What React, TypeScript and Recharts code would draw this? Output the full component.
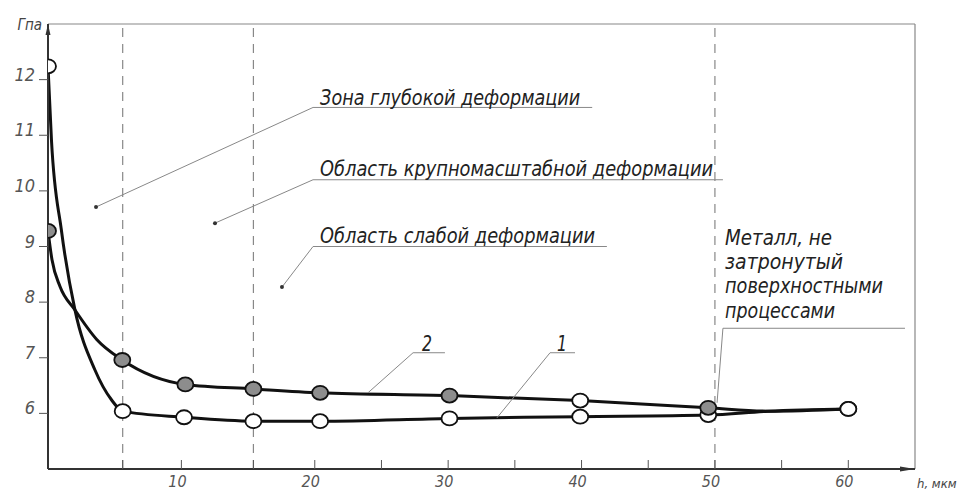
import React from 'react';
import { ComposedChart, Line, XAxis, YAxis, ReferenceLine, ReferenceDot } from 'recharts';

// Curve 1: open markers (depth, мкм / hardness, ГПа). Empty mark = traced point on the curve.
const depth1 = [0, 0.26, 1.0, 2.02, 3.52, 4.77, 5.6, 10.2, 15.4, 20.4, 30.1, 39.9, 49.5, 54, 60];
const hard1 = [12.24, 10.91, 9.3, 7.86, 6.78, 6.24, 6.04, 5.93, 5.86, 5.86, 5.91, 5.94, 5.97, 6.04, 6.08];
const marks1 = ['open', '', '', '', '', '', 'open', 'open', 'open', 'open', 'open', 'open', 'open', '', 'open'];

// Curve 2: grey markers
const depth2 = [0, 0.3, 0.9, 2.02, 3.65, 5.57, 10.3, 15.4, 20.4, 30.1, 39.9, 49.5, 54, 60];
const hard2 = [9.28, 8.76, 8.28, 7.86, 7.33, 6.96, 6.52, 6.44, 6.37, 6.32, 6.23, 6.1, 6.04, 6.08];
const marks2 = ['grey', '', '', '', '', 'grey', 'grey', 'grey', 'grey', 'grey', 'open', 'grey', '', 'open'];

const xTicks = [5.6, 10, 15.4, 20, 25, 30, 35, 40, 45, 50, 55, 60];
const xLabels = [10, 20, 30, 40, 50, 60];
const yTicks = [6, 7, 8, 9, 10, 11, 12];
const zoneBounds = [5.6, 15.4, 50];

const series1 = depth1.map((h, i) => ({ h, v: hard1[i], mark: marks1[i] }));
const series2 = depth2.map((h, i) => ({ h, v: hard2[i], mark: marks2[i] }));

const FONT = "'Liberation Sans Narrow', 'DejaVu Sans Condensed', 'Liberation Sans', sans-serif";
const INK = '#222';

// zone callouts: text, underline and leader to a dot inside the zone
const zoneNotes = [
  { text: 'Зона глубокой деформации', x: 20.4, y: 11.54, width: 260, lineY: 11.5, lineEnd: 40.8, dot: { x: 3.6, y: 9.71 } },
  { text: 'Область крупномасштабной деформации', x: 20.4, y: 10.26, width: 393, lineY: 10.2, lineEnd: 50.6, dot: { x: 12.52, y: 9.42 } },
  { text: 'Область слабой деформации', x: 20.4, y: 9.06, width: 275, lineY: 9.0, lineEnd: 41.9, dot: { x: 17.54, y: 8.27 } },
];
const noteStart = 19.87;

const metalLines = [
  { text: 'Металл, не', y: 9.03, width: 107 },
  { text: 'затронутый', y: 8.6, width: 118 },
  { text: 'поверхностными', y: 8.16, width: 158 },
  { text: 'процессами', y: 7.72, width: 110 },
];

// curve number callouts
const curveTags = [
  { text: '2', x: 28.42, y: 7.12, lineFrom: 27.37, lineTo: 29.76, lineY: 7.09, target: { x: 23.99, y: 6.37 } },
  { text: '1', x: 38.54, y: 7.12, lineFrom: 37.64, lineTo: 39.51, lineY: 7.09, target: { x: 33.66, y: 5.92 } },
];

const renderMarker = (props: any) => {
  const { cx, cy, payload, index } = props;
  if (!payload || !payload.mark) return <g key={`m-${index}`} />;
  return (
    <ellipse
      key={`m-${index}`}
      cx={cx}
      cy={cy}
      rx={8}
      ry={7}
      fill={payload.mark === 'grey' ? '#8d8d8d' : '#fff'}
      stroke="#111"
      strokeWidth={1.8}
    />
  );
};

const XTick = (props: any) => {
  const { x, y, payload } = props;
  return (
    <g>
      <line x1={x} x2={x} y1={y} y2={y - 9} stroke="#555" strokeWidth={1} />
      {xLabels.includes(payload.value) && (
        <text x={x - 4} y={y + 18} textAnchor="middle" fontFamily={FONT} fontStyle="italic" fontSize={16} fill="#555">
          {payload.value}
        </text>
      )}
    </g>
  );
};

const YTick = (props: any) => {
  const { x, y, payload } = props;
  return (
    <g>
      <line x1={x - 9} x2={x} y1={y} y2={y} stroke="#555" strokeWidth={1} />
      <text x={x - 13} y={y + 1} textAnchor="end" fontFamily={FONT} fontStyle="italic" fontSize={18} fill="#555">
        {payload.value}
      </text>
    </g>
  );
};

const noteText = (text: string, width: number, size = 22, anchor = 'start') => (p: any) => (
  <text
    x={p.cx}
    y={p.cy}
    textAnchor={anchor}
    fontFamily={FONT}
    fontStyle="italic"
    fontSize={size}
    fill={INK}
    textLength={width}
    lengthAdjust="spacingAndGlyphs"
  >
    {text}
  </text>
);

export default function App() {
  return (
    <div style={{ position: 'absolute', left: 0, top: 0, background: '#fff' }}>
      <ComposedChart width={964} height={493} margin={{ top: 24, right: 49, bottom: 0, left: 0 }}>
        <XAxis
          dataKey="h"
          type="number"
          domain={[0, 65]}
          ticks={xTicks}
          interval={0}
          tick={<XTick />}
          tickLine={false}
          tickSize={0}
          tickMargin={0}
          height={24}
          axisLine={{ stroke: '#333', strokeWidth: 2 }}
          allowDataOverflow
        />
        <YAxis
          type="number"
          domain={[5, 13]}
          ticks={yTicks}
          interval={0}
          tick={<YTick />}
          tickLine={false}
          tickSize={0}
          tickMargin={0}
          width={48}
          axisLine={{ stroke: '#333', strokeWidth: 2 }}
          allowDataOverflow
        />

        {/* frame */}
        <ReferenceLine y={13} stroke="#888" strokeWidth={1.2} />
        <ReferenceLine x={65} stroke="#888" strokeWidth={1.2} />

        {zoneBounds.map((b) => (
          <ReferenceLine key={`z-${b}`} x={b} stroke="#888" strokeWidth={1.2} strokeDasharray="9 7" />
        ))}

        {/* zone callouts */}
        {zoneNotes.map((n, i) => (
          <ReferenceLine
            key={`nu-${i}`}
            segment={[{ x: noteStart, y: n.lineY }, { x: n.lineEnd, y: n.lineY }]}
            stroke="#888"
            strokeWidth={1}
          />
        ))}
        {zoneNotes.map((n, i) => (
          <ReferenceLine
            key={`nl-${i}`}
            segment={[{ x: noteStart, y: n.lineY }, n.dot]}
            stroke="#888"
            strokeWidth={1}
          />
        ))}
        {zoneNotes.map((n, i) => (
          <ReferenceDot key={`nd-${i}`} x={n.dot.x} y={n.dot.y} r={2} fill="#333" stroke="none" ifOverflow="visible" />
        ))}
        {zoneNotes.map((n, i) => (
          <ReferenceDot key={`nt-${i}`} x={n.x} y={n.y} ifOverflow="visible" shape={noteText(n.text, n.width)} />
        ))}

        {/* untouched metal note */}
        {metalLines.map((m, i) => (
          <ReferenceDot key={`mt-${i}`} x={50.76} y={m.y} ifOverflow="visible" shape={noteText(m.text, m.width)} />
        ))}
        <ReferenceLine segment={[{ x: 50.6, y: 7.53 }, { x: 64.25, y: 7.53 }]} stroke="#888" strokeWidth={1} />
        <ReferenceLine segment={[{ x: 50.6, y: 7.53 }, { x: 50.16, y: 6.19 }]} stroke="#888" strokeWidth={1} />

        <Line
          data={series1}
          dataKey="v"
          type="monotone"
          stroke="#111"
          strokeWidth={3}
          dot={renderMarker}
          activeDot={false}
          isAnimationActive={false}
        />
        <Line
          data={series2}
          dataKey="v"
          type="monotone"
          stroke="#111"
          strokeWidth={3}
          dot={renderMarker}
          activeDot={false}
          isAnimationActive={false}
        />

        {/* curve numbers */}
        {curveTags.map((t, i) => (
          <ReferenceLine
            key={`tu-${i}`}
            segment={[{ x: t.lineFrom, y: t.lineY }, { x: t.lineTo, y: t.lineY }]}
            stroke="#888"
            strokeWidth={1}
          />
        ))}
        {curveTags.map((t, i) => (
          <ReferenceLine
            key={`tl-${i}`}
            segment={[{ x: t.lineFrom, y: t.lineY }, t.target]}
            stroke="#888"
            strokeWidth={1}
          />
        ))}
        {curveTags.map((t, i) => (
          <ReferenceDot key={`tt-${i}`} x={t.x} y={t.y} ifOverflow="visible" shape={noteText(t.text, 10, 21, 'middle')} />
        ))}

        {/* axis arrows and units */}
        <ReferenceDot
          x={0}
          y={13}
          ifOverflow="visible"
          shape={(p: any) => (
            <g>
              <polygon points={`${p.cx},${p.cy} ${p.cx - 2.5},${p.cy + 11} ${p.cx + 2.5},${p.cy + 11}`} fill="#333" />
              <text x={p.cx - 6} y={p.cy + 6} textAnchor="end" fontFamily={FONT} fontStyle="italic" fontSize={15} fill="#444">
                Гпа
              </text>
            </g>
          )}
        />
        <ReferenceDot
          x={65}
          y={5}
          ifOverflow="visible"
          shape={(p: any) => (
            <g>
              <polygon points={`${p.cx},${p.cy} ${p.cx - 15},${p.cy - 2.5} ${p.cx - 15},${p.cy + 2.5}`} fill="#333" />
              <text x={p.cx + 2} y={p.cy + 19} fontFamily={FONT} fontStyle="italic" fontSize={13} fill="#444">
                h, мкм
              </text>
            </g>
          )}
        />
      </ComposedChart>
    </div>
  );
}
